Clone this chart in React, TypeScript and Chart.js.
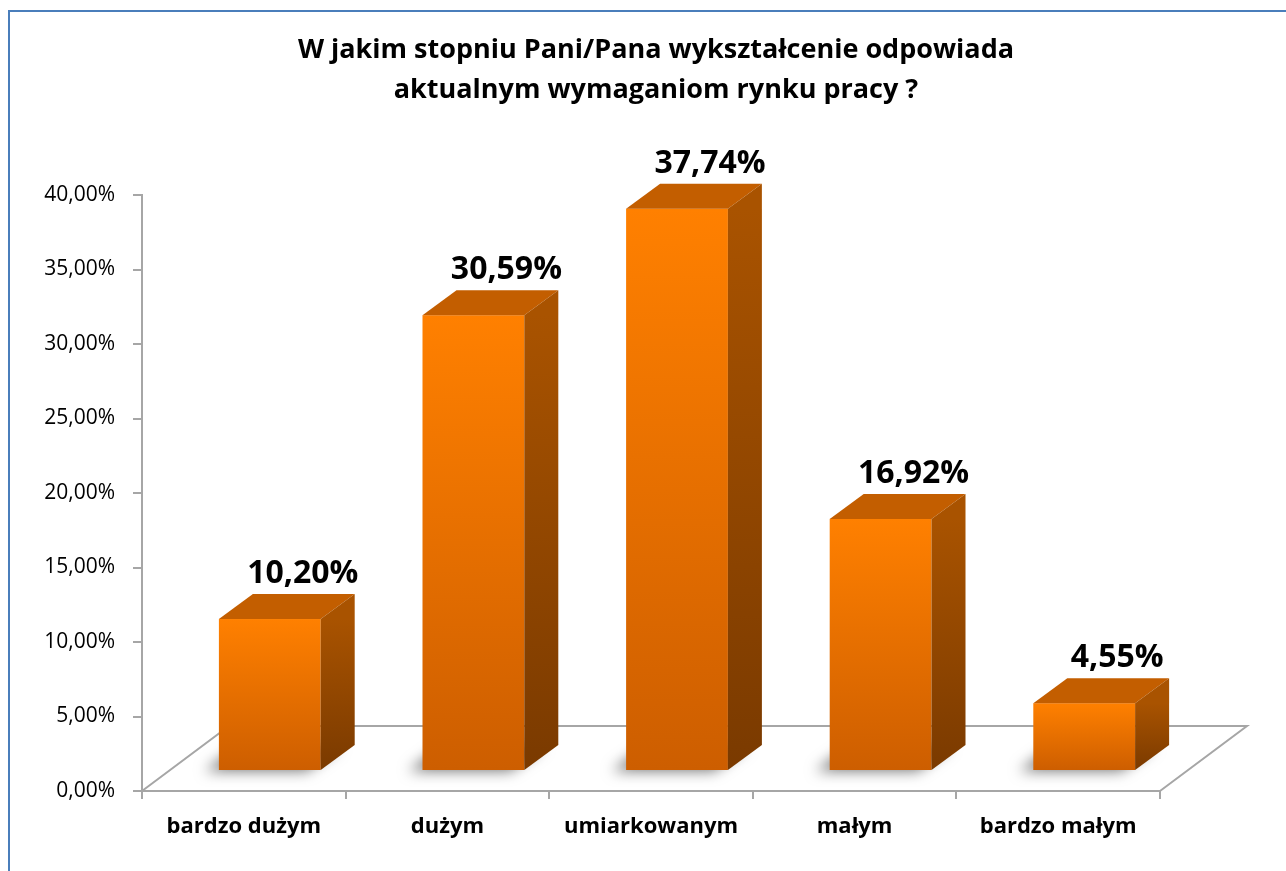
import React, { useEffect, useRef } from 'react';
import { Chart, registerables } from 'chart.js';

Chart.register(...registerables);

const titleLines = ['W jakim stopniu Pani/Pana wykształcenie odpowiada', 'aktualnym wymaganiom rynku pracy ?'];
const categories = ['bardzo dużym', 'dużym', 'umiarkowanym', 'małym', 'bardzo małym'];
const values = [10.2, 30.59, 37.74, 16.92, 4.55];
const yMin = 0;
const yMax = 40;
const yStep = 5;

const fmt = (v: number) => v.toFixed(2).replace('.', ',') + '%';

const FONT = '"Open Sans", sans-serif';
const AXIS_COLOR = '#a6a6a6';
const FRONT = { dx: 26, dy: -20 };
const DEPTH = { dx: 34, dy: -25 };
const FLOOR = { dx: 87, dy: -65 };

const bars3d = {
  id: 'bars3d',
  beforeDatasetsDraw(chart: any) {
    const { ctx, chartArea } = chart;
    const { left, right, bottom } = chartArea;
    ctx.save();
    ctx.strokeStyle = AXIS_COLOR;
    ctx.lineWidth = 2;
    ctx.beginPath();
    ctx.moveTo(left, bottom);
    ctx.lineTo(left + FLOOR.dx, bottom + FLOOR.dy);
    ctx.lineTo(right + FLOOR.dx, bottom + FLOOR.dy);
    ctx.lineTo(right, bottom);
    ctx.stroke();
    ctx.restore();
  },
  afterDatasetsDraw(chart: any) {
    const { ctx } = chart;
    const meta = chart.getDatasetMeta(0);
    meta.data.forEach((el: any, i: number) => {
      const w = el.width;
      const l = el.x - w / 2 + FRONT.dx;
      const r = l + w;
      const t = el.y + FRONT.dy;
      const b = el.base + FRONT.dy;
      // shadow
      ctx.save();
      const off = 5000;
      ctx.shadowColor = 'rgba(0,0,0,0.55)';
      ctx.shadowBlur = 14;
      ctx.shadowOffsetX = off - 14;
      ctx.shadowOffsetY = 1;
      ctx.fillStyle = '#000';
      ctx.beginPath();
      ctx.moveTo(l - off, b);
      ctx.lineTo(r - off, b);
      ctx.lineTo(r + DEPTH.dx - off, b + DEPTH.dy);
      ctx.lineTo(l + DEPTH.dx - off, b + DEPTH.dy);
      ctx.closePath();
      ctx.fill();
      ctx.restore();

      ctx.save();
      // front
      const gf = ctx.createLinearGradient(0, t, 0, b);
      gf.addColorStop(0, '#ff8000');
      gf.addColorStop(1, '#cd5e00');
      ctx.fillStyle = gf;
      ctx.fillRect(l, t, w, b - t);
      // top
      ctx.fillStyle = '#c35e00';
      ctx.beginPath();
      ctx.moveTo(l, t);
      ctx.lineTo(l + DEPTH.dx, t + DEPTH.dy);
      ctx.lineTo(r + DEPTH.dx, t + DEPTH.dy);
      ctx.lineTo(r, t);
      ctx.closePath();
      ctx.fill();
      // side
      const gs = ctx.createLinearGradient(0, t, 0, b);
      gs.addColorStop(0, '#a95300');
      gs.addColorStop(1, '#7a3a00');
      ctx.fillStyle = gs;
      ctx.beginPath();
      ctx.moveTo(r, t);
      ctx.lineTo(r + DEPTH.dx, t + DEPTH.dy);
      ctx.lineTo(r + DEPTH.dx, b + DEPTH.dy);
      ctx.lineTo(r, b);
      ctx.closePath();
      ctx.fill();
      // label
      ctx.fillStyle = '#000';
      ctx.font = `bold 32px ${FONT}`;
      ctx.textAlign = 'center';
      ctx.textBaseline = 'alphabetic';
      ctx.fillText(fmt(values[i]), (l + r) / 2 + DEPTH.dx - 1, t + DEPTH.dy - 11);
      ctx.restore();
    });
  },
  afterDraw(chart: any) {
    const { ctx } = chart;
    ctx.save();
    ctx.fillStyle = '#000';
    ctx.font = `bold 27px ${FONT}`;
    ctx.textAlign = 'center';
    ctx.textBaseline = 'alphabetic';
    titleLines.forEach((line, i) => {
      ctx.fillText(line, 656, 58 + i * 40);
    });
    ctx.restore();
  },
};

export default function App() {
  const ref = useRef<HTMLCanvasElement>(null);
  useEffect(() => {
    if (!ref.current) return;
    const chart = new Chart(ref.current, {
      type: 'bar',
      data: {
        labels: categories,
        datasets: [
          {
            data: values,
            backgroundColor: 'rgba(0,0,0,0)',
            borderWidth: 0,
            categoryPercentage: 1,
            barPercentage: 0.5,
          },
        ],
      },
      options: {
        responsive: false,
        animation: false,
        layout: { padding: { top: 195, right: 126, bottom: 0, left: 0 } },
        plugins: {
          legend: { display: false },
          tooltip: { enabled: false },
          title: { display: false },
        },
        scales: {
          x: {
            afterFit: (s: any) => {
              s.height = 80;
            },
            grid: {
              offset: true,
              drawOnChartArea: false,
              drawTicks: true,
              tickLength: 8,
              color: AXIS_COLOR,
              lineWidth: 2,
            },
            border: { display: true, color: AXIS_COLOR, width: 2 },
            ticks: {
              color: '#000',
              font: { family: FONT, size: 22, weight: 'bold' },
              padding: 15,
              maxRotation: 0,
              autoSkip: false,
            },
          },
          y: {
            min: yMin,
            max: yMax,
            afterFit: (s: any) => {
              s.width = 142;
            },
            grid: {
              drawOnChartArea: false,
              drawTicks: true,
              tickLength: 9,
              color: AXIS_COLOR,
              lineWidth: 2,
            },
            border: { display: true, color: AXIS_COLOR, width: 2 },
            ticks: {
              stepSize: yStep,
              color: '#000',
              font: { family: FONT, size: 21 },
              padding: 18,
              callback: (v: any) => fmt(Number(v)),
            },
          },
        },
      },
      plugins: [bars3d],
    });
    return () => chart.destroy();
  }, []);

  return (
    <div style={{ position: 'fixed', left: 0, top: 0, width: 1286, height: 871, background: '#fff', overflow: 'hidden' }}>
      <div
        style={{
          position: 'absolute',
          left: 8,
          top: 10,
          width: 1300,
          height: 900,
          borderLeft: '2px solid #4a7ebb',
          borderTop: '2px solid #4a7ebb',
        }}
      />
      <canvas ref={ref} width={1286} height={871} style={{ position: 'absolute', left: 0, top: 0 }} />
    </div>
  );
}
